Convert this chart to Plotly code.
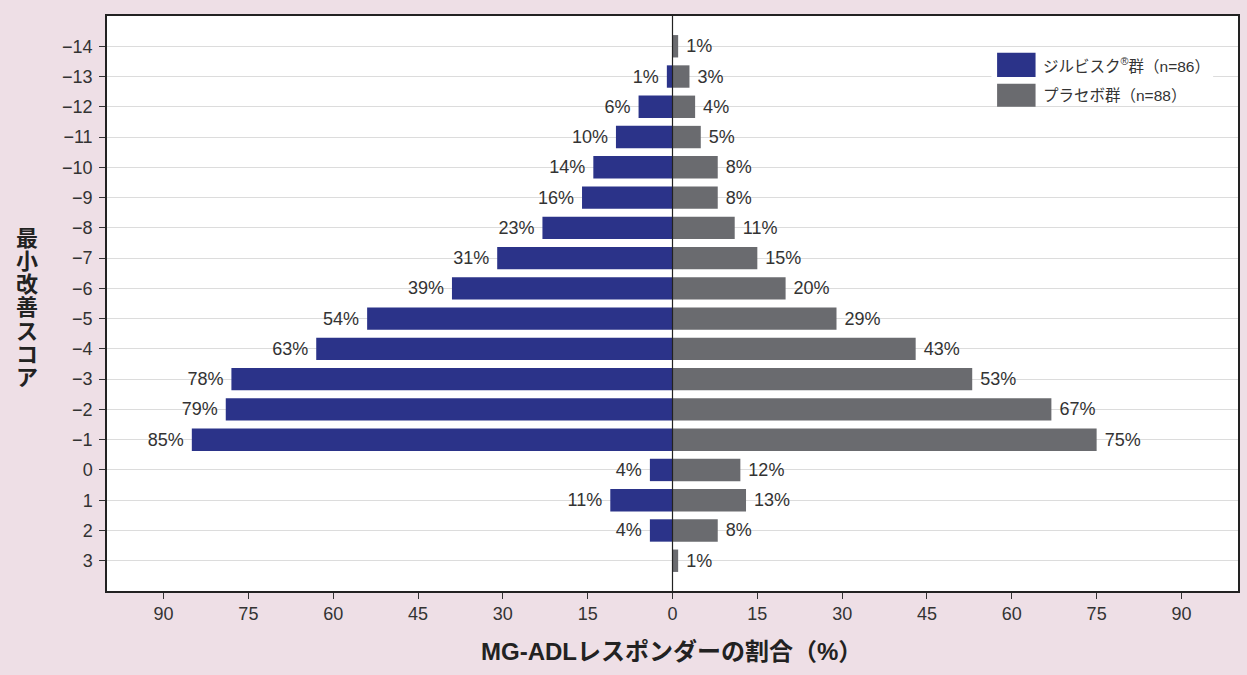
import plotly.graph_objects as go

scores = [-14, -13, -12, -11, -10, -9, -8, -7, -6, -5, -4, -3, -2, -1, 0, 1, 2, 3]
score_labels = ["−14", "−13", "−12", "−11", "−10", "−9", "−8", "−7", "−6", "−5",
                "−4", "−3", "−2", "−1", "0", "1", "2", "3"]
zilbysq = [0, 1, 6, 10, 14, 16, 23, 31, 39, 54, 63, 78, 79, 85, 4, 11, 4, 0]
placebo = [1, 3, 4, 5, 8, 8, 11, 15, 20, 29, 43, 53, 67, 75, 12, 13, 8, 1]
x_tickvals = [-90, -75, -60, -45, -30, -15, 0, 15, 30, 45, 60, 75, 90]
x_ticktext = ["90", "75", "60", "45", "30", "15", "0", "15", "30", "45", "60", "75", "90"]
legend_names = ["ジルビスク<sup>®</sup>群（n=86）", "プラセボ群（n=88）"]
y_title = "最小改善スコア"
x_title = "MG-ADLレスポンダーの割合（%）"

BLUE = "#2B3389"
GREY = "#6A6B6F"
BG = "#EEDFE6"
NUM_FONT = "Liberation Sans, Arial, sans-serif"
JP_FONT = "Noto Sans CJK JP, sans-serif"
MIX_FONT = "Liberation Sans, Noto Sans CJK JP, sans-serif"
NBSP = "\u00a0"

# keep only non-zero bars so no empty labels are drawn
blue_y = [s for s, v in zip(scores, zilbysq) if v > 0]
blue_x = [v for v in zilbysq if v > 0]
grey_y = [s for s, v in zip(scores, placebo) if v > 0]
grey_x = [v for v in placebo if v > 0]

fig = go.Figure()
fig.add_trace(go.Bar(
    y=blue_y, x=[-v for v in blue_x], orientation="h", width=0.74,
    marker=dict(color=BLUE, line=dict(width=0)),
    text=[f"{v}%{NBSP}" for v in blue_x],
    textposition="outside", constraintext="none", cliponaxis=False,
    textfont=dict(family=NUM_FONT, size=18, color="#333333"),
    name=legend_names[0], showlegend=False,
))
fig.add_trace(go.Bar(
    y=grey_y, x=grey_x, orientation="h", width=0.74,
    marker=dict(color=GREY, line=dict(width=0)),
    text=[f"{NBSP}{v}%" for v in grey_x],
    textposition="outside", constraintext="none", cliponaxis=False,
    textfont=dict(family=NUM_FONT, size=18, color="#333333"),
    name=legend_names[1], showlegend=False,
))

# vertical zero line
fig.add_shape(type="line", xref="x", yref="paper", x0=0, x1=0, y0=0, y1=1,
              line=dict(color="#222222", width=1.2), layer="above")

# custom legend
fig.add_shape(type="rect", xref="paper", yref="paper", x0=0.782, x1=0.978, y0=0.847, y1=0.941,
              fillcolor="white", line=dict(width=0), layer="above")
fig.add_shape(type="rect", xref="paper", yref="paper", x0=0.787, x1=0.821, y0=0.894, y1=0.936,
              fillcolor=BLUE, line=dict(width=0), layer="above")
fig.add_shape(type="rect", xref="paper", yref="paper", x0=0.787, x1=0.821, y0=0.842, y1=0.882,
              fillcolor=GREY, line=dict(width=0), layer="above")
fig.add_annotation(xref="paper", yref="paper", x=0.826, y=0.915, xanchor="left", yanchor="middle",
                   text=legend_names[0], showarrow=False,
                   font=dict(family=MIX_FONT, size=15.5, color="#333333"))
fig.add_annotation(xref="paper", yref="paper", x=0.826, y=0.862, xanchor="left", yanchor="middle",
                   text=legend_names[1], showarrow=False,
                   font=dict(family=MIX_FONT, size=15.5, color="#333333"))

# axis titles
fig.add_annotation(xref="paper", yref="paper", x=0.499, y=-0.106, xanchor="center", yanchor="middle",
                   text=f"<b>{x_title}</b>", showarrow=False,
                   font=dict(family=MIX_FONT, size=24, color="#222222"))
vertical = "<br>".join(f"<span style='font-size:22px'>{ch}</span>" for ch in y_title)
fig.add_annotation(xref="paper", yref="paper", x=-0.0711, y=0.497,
                   xanchor="center", yanchor="middle",
                   text=f"<b>{vertical}</b>", showarrow=False,
                   font=dict(family=JP_FONT, size=17.8, color="#222222"))

fig.update_layout(
    width=1247, height=675,
    margin=dict(l=107, r=7, t=16, b=84),
    paper_bgcolor=BG, plot_bgcolor="white",
    barmode="overlay",
    showlegend=False,
    xaxis=dict(range=[-100, 100], tickvals=x_tickvals, ticktext=x_ticktext,
               ticks="outside", ticklen=6, tickcolor="#333333", tickwidth=1.2,
               showgrid=False, zeroline=False,
               showline=True, mirror=True, linecolor="#222222", linewidth=1.5,
               tickfont=dict(family=NUM_FONT, size=18, color="#333333")),
    yaxis=dict(range=[4, -15], tickvals=scores, ticktext=score_labels,
               ticks="outside", ticklen=6, tickcolor="#333333", tickwidth=1.2,
               ticklabelstandoff=3,
               showgrid=True, gridcolor="#DCDCDC", gridwidth=1.2, zeroline=False,
               showline=True, mirror=True, linecolor="#222222", linewidth=1.5,
               tickfont=dict(family=NUM_FONT, size=18, color="#333333")),
)

fig.write_html("out.html")
